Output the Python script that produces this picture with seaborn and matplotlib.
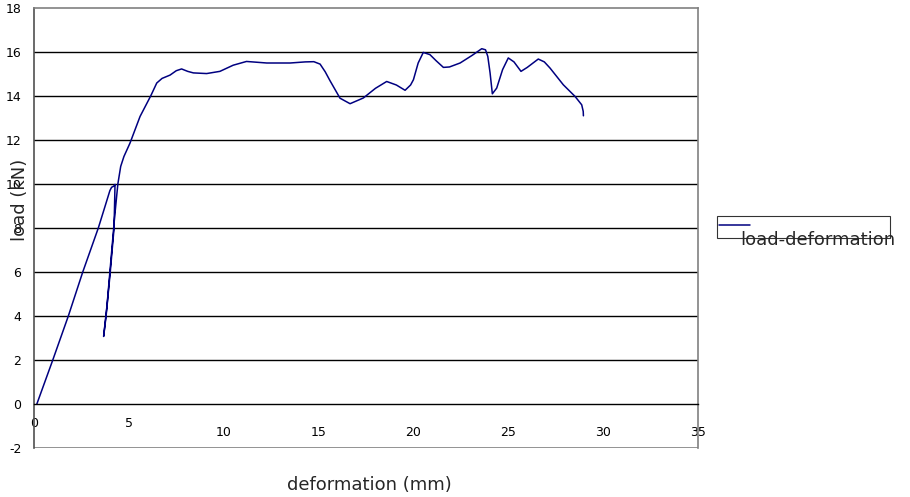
import matplotlib
matplotlib.use("Agg")
import matplotlib.pyplot as plt
import matplotlib.transforms as mtransforms
import pandas as pd
import seaborn as sns

# load-deformation curve
deformation = [
    0.15, 0.99, 1.81, 2.57, 3.39, 3.75, 4.00, 4.09, 4.20, 4.27,
    4.22, 4.02, 3.80, 3.67, 3.85, 4.05, 4.25, 4.42, 4.57, 4.74,
    5.06, 5.59, 6.15, 6.47, 6.75, 7.17, 7.50, 7.78, 8.10, 8.40,
    9.10, 9.80, 10.50, 11.20, 12.27, 13.50, 14.30, 14.75, 15.08, 15.35,
    15.60, 16.13, 16.66, 17.36, 18.00, 18.59, 19.10, 19.56, 19.85, 20.00,
    20.25, 20.52, 20.87, 21.20, 21.58, 21.90, 22.46, 23.10, 23.60, 23.80,
    23.92, 24.04, 24.16, 24.39, 24.70, 25.00, 25.30, 25.67, 26.00, 26.58,
    26.90, 27.20, 27.90, 28.52, 28.87, 28.95, 28.96,
]
load = [
    0.00, 2.00, 4.00, 6.00, 8.00, 9.00, 9.70, 9.85, 9.90, 9.98,
    8.00, 6.00, 4.00, 3.07, 4.50, 6.50, 8.50, 10.00, 10.80, 11.25,
    11.86, 13.07, 14.00, 14.59, 14.80, 14.95, 15.15, 15.23, 15.12, 15.05,
    15.02, 15.12, 15.40, 15.57, 15.50, 15.50, 15.55, 15.56, 15.45, 15.10,
    14.70, 13.90, 13.65, 13.91, 14.35, 14.66, 14.50, 14.26, 14.50, 14.74,
    15.50, 15.98, 15.88, 15.60, 15.30, 15.32, 15.50, 15.85, 16.15, 16.10,
    15.80, 15.05, 14.10, 14.36, 15.20, 15.73, 15.55, 15.12, 15.30, 15.68,
    15.55, 15.27, 14.51, 13.98, 13.60, 13.30, 13.10,
]
x_ticks = [0, 5, 10, 15, 20, 25, 30, 35]
y_ticks = [-2, 0, 2, 4, 6, 8, 10, 12, 14, 16, 18]

df = pd.DataFrame({"deformation": deformation, "load": load})

sns.set_style("white")
plt.rcParams["font.family"] = ["DejaVu Sans"]

fig = plt.figure(figsize=(9.1, 4.97), dpi=100)
ax = fig.add_axes([34 / 910, 49 / 497, 664 / 910, 440 / 497])

sns.lineplot(data=df, x="deformation", y="load", sort=False, estimator=None,
             color="#000080", linewidth=1.1, label="load-deformation", ax=ax)

ax.set_xlim(0, 35)
ax.set_ylim(-2, 18)

# horizontal gridlines in black
for v in y_ticks[2:-1]:
    ax.axhline(v, color="black", linewidth=1.0, zorder=0.5)
ax.axhline(-2, color="#808080", linewidth=1.2, zorder=0.5)

# x axis sits at y = 0
ax.spines["bottom"].set_position(("data", 0))
ax.spines["bottom"].set_color("black")
ax.spines["bottom"].set_linewidth(1.0)
for side in ["top", "right"]:
    ax.spines[side].set_color("#808080")
    ax.spines[side].set_linewidth(1.2)
ax.spines["left"].set_color("#505050")
ax.spines["left"].set_linewidth(1.2)

ax.set_xticks(x_ticks)
ax.set_xticklabels([str(t) for t in x_ticks])
ax.set_yticks(y_ticks)
ax.set_yticklabels([str(t) for t in y_ticks])
ax.tick_params(axis="x", direction="out", length=3, width=0.8, pad=6.5,
               labelsize=9, colors="black")
ax.tick_params(axis="y", direction="out", length=3, width=0.8, pad=6,
               labelsize=9, colors="black")

# staggered x tick labels like the original
for i, lab in enumerate(ax.get_xticklabels()):
    dy = 0 if i < 2 else -9
    lab.set_transform(lab.get_transform()
                      + mtransforms.ScaledTranslation(0, dy / 100, fig.dpi_scale_trans))

ax.set_xlabel("deformation (mm)", fontsize=13, va="center")
ax.set_ylabel("load (kN)", fontsize=13, va="center", ha="center")
ax.xaxis.set_label_coords((369 - 34) / 664, (448 - 485) / 440)
ax.yaxis.set_label_coords((20 - 34) / 664, (448 - 200) / 440)

leg = ax.legend(loc="upper left", bbox_to_anchor=(717 / 910, 1 - 216 / 497),
                bbox_transform=fig.transFigure, borderaxespad=0, fontsize=13,
                frameon=True, fancybox=False, handlelength=1.7,
                handletextpad=-0.9, borderpad=0.1)
leg.get_frame().set_edgecolor("black")
leg.get_frame().set_linewidth(0.8)
txt = leg.get_texts()[0]
txt.set_transform(txt.get_transform()
                  + mtransforms.ScaledTranslation(0.07, -0.13, fig.dpi_scale_trans))

fig.savefig("out.png", dpi=100)
